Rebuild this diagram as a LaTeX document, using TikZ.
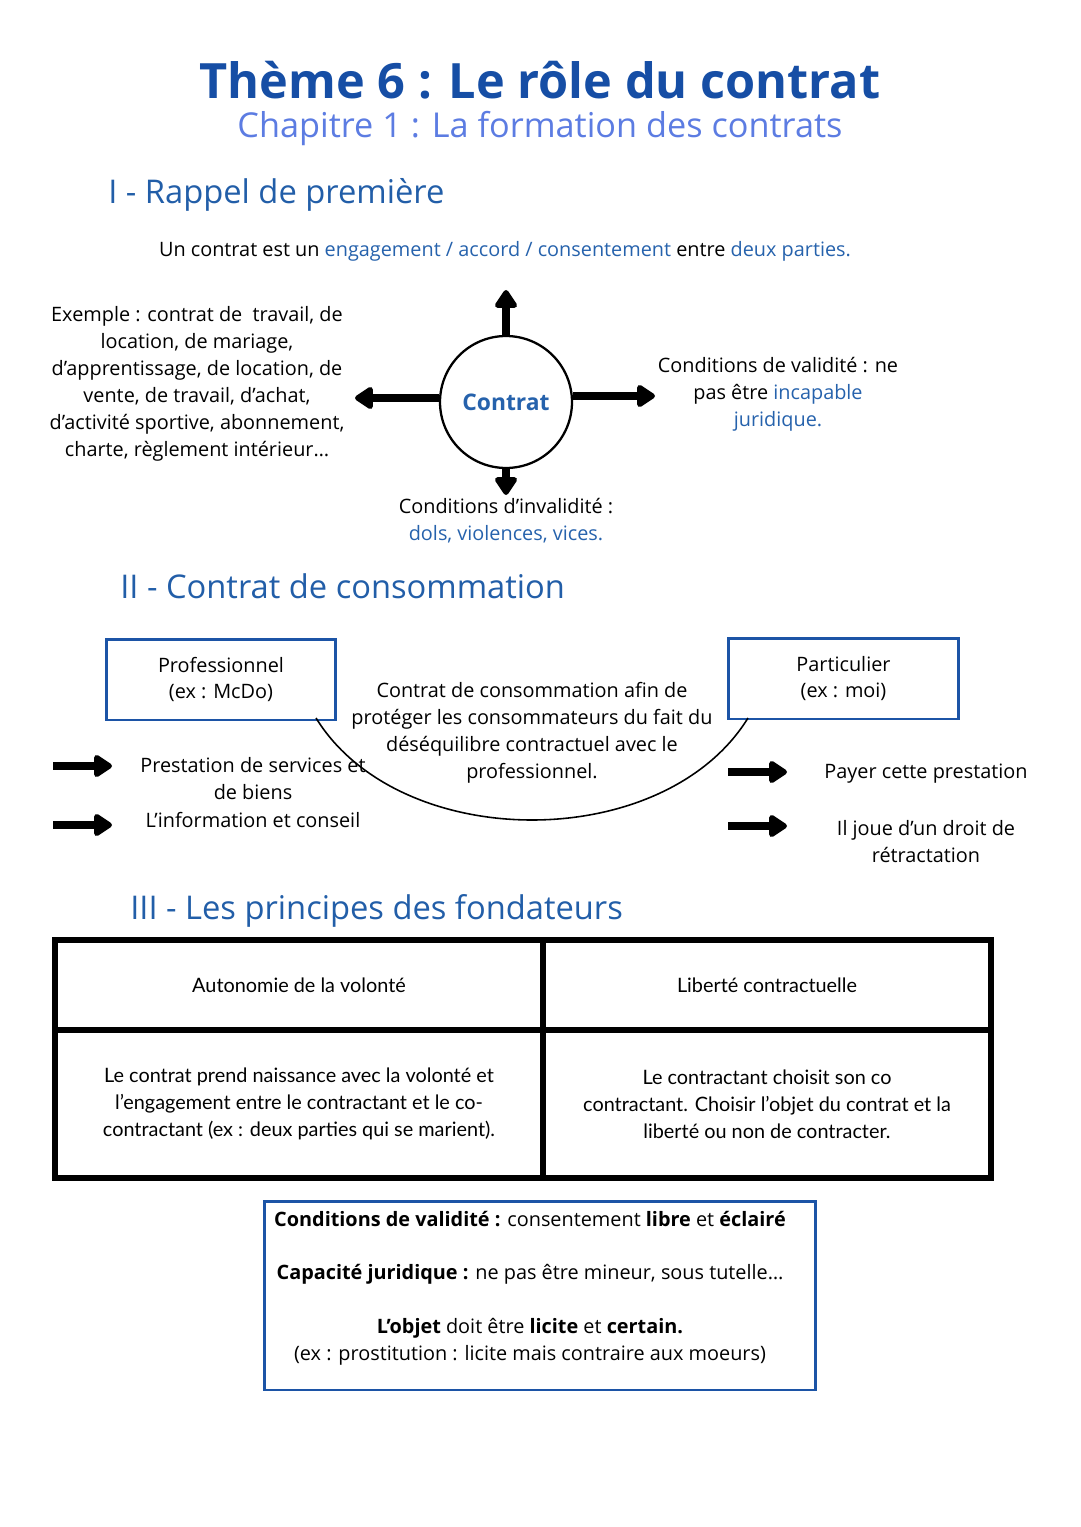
\documentclass[tikz,border=0pt]{standalone}
\usepackage{fontspec}
\setmainfont{Open Sans}
\newfontfamily\tabfont{Lato}
\usetikzlibrary{arrows.meta,positioning}
\definecolor{titleblue}{RGB}{22,78,165}
\definecolor{subblue}{RGB}{92,124,226}
\definecolor{headblue}{RGB}{34,94,168}
\definecolor{wordblue}{RGB}{38,98,172}
\definecolor{boxblue}{RGB}{28,84,166}
\newcommand{\bw}[1]{\textcolor{wordblue}{#1}}
\begin{document}
\begin{tikzpicture}[x=0.02cm, y=-0.02cm,
    txt/.style={align=center, font=\fontsize{11.3}{15.3}\selectfont, inner sep=0pt},
    heading/.style={anchor=west, text=headblue, font=\fontsize{18.6}{22}\selectfont, inner sep=0pt},
    party/.style={draw=boxblue, line width=1.7pt, minimum width=4.6cm, minimum height=1.62cm, align=center, font=\fontsize{11.3}{15.3}\selectfont},
    bigarrow/.style={-{Triangle[round,length=0.4cm,width=0.5cm]}, line width=4pt},
    cell/.style={draw, line width=3.4pt, align=center, font=\tabfont\fontsize{11.3}{15.3}\selectfont},
]
\useasboundingbox (0,0) rectangle (1080,1527);

% titres
\node[font=\fontsize{27.7}{32}\selectfont\bfseries, text=titleblue] (title) at (540,80) {Thème 6 : Le rôle du contrat};
\node[font=\fontsize{19.5}{24}\selectfont, text=subblue] (subtitle) at (540,129) {Chapitre 1 : La formation des contrats};

% I - Rappel de premiere
\node[heading] (h1) at (108,195) {I - Rappel de première};
\node[txt] (intro) at (505,251) {Un contrat est un \bw{engagement / accord / consentement} entre \bw{deux parties.}};

\node[circle, draw, line width=1.3pt, minimum size=2.64cm, text=wordblue, font=\fontsize{13}{16}\selectfont\bfseries] (ctr) at (506,402) {Contrat};
\coordinate (up) at (506,290);
\coordinate (left) at (355,398);
\coordinate (right) at (655,396);
\coordinate (down) at (506,495);
\draw[bigarrow] (ctr.north) -- (up);
\draw[bigarrow] (left -| ctr.west) -- (left);
\draw[bigarrow] (right -| ctr.east) -- (right);
\draw[bigarrow] (ctr.south) -- (down);

\node[txt] (exemple) at (197,384) {Exemple : contrat de ~travail, de\\location, de mariage,\\d’apprentissage, de location, de\\vente, de travail, d’achat,\\d’activité sportive, abonnement,\\charte, règlement intérieur…};
\node[txt] (valid) at (778,394) {Conditions de validité : ne\\pas être \bw{incapable}\\\bw{juridique.}};
\node[txt] (invalid) at (506,521) {Conditions d’invalidité :\\\bw{dols, violences, vices.}};

% II - Contrat de consommation
\node[heading] (h2) at (120,586) {II - Contrat de consommation};
\node[party] (pro) at (221,679.5) {Professionnel\\(ex : McDo)};
\node[party] (part) at (843.5,678.5) {Particulier\\(ex : moi)};
\node[txt] (conso) at (532,733) {Contrat de consommation afin de\\protéger les consommateurs du fait du\\déséquilibre contractuel avec le\\professionnel.};
\coordinate (arcL) at (316,718);
\coordinate (arcR) at (748,718);
\draw[line width=0.9pt] (arcL) .. controls (400,854) and (664,854) .. (arcR);

\coordinate (p1s) at (53,766);
\coordinate (p1e) at (112,766);
\coordinate (p2s) at (53,825);
\coordinate (p2e) at (112,825);
\coordinate (c1s) at (728,772);
\coordinate (c1e) at (787,772);
\coordinate (c2s) at (728,826);
\coordinate (c2e) at (787,826);
\foreach \s/\e in {p1s/p1e, p2s/p2e, c1s/c1e, c2s/c2e}
  \draw[bigarrow] (\s) -- (\e);
\node[txt] (presta) at (253,778.5) {Prestation de services et\\de biens};
\node[txt] (info) at (253,820) {L’information et conseil};
\node[txt] (payer) at (926,774) {Payer cette prestation};
\node[txt] (droit) at (926,841.5) {Il joue d’un droit de\\rétractation};

% III - Les principes des fondateurs
\node[heading] (h3) at (130,911) {III - Les principes des fondateurs};
\node[cell, minimum width=9.76cm, minimum height=1.8cm] (auto) at (299,985) {Autonomie de la volonté};
\node[cell, minimum width=8.96cm, minimum height=1.8cm] (lib) at (767,985) {Liberté contractuelle};
\node[cell, minimum width=9.76cm, minimum height=2.96cm] (autotxt) at (299,1104) {Le contrat prend naissance avec la volonté et\\l’engagement entre le contractant et le co-\\contractant (ex : deux parties qui se marient).};
\node[cell, minimum width=8.96cm, minimum height=2.96cm] (libtxt) at (767,1104) {Le contractant choisit son co\\contractant. Choisir l’objet du contrat et la\\liberté ou non de contracter.};

% conditions
\node[draw=boxblue, line width=1.7pt, minimum width=11.04cm, minimum height=3.78cm] (cond) at (540,1295.5) {};
\node[txt] (condtxt) at (530,1288) {\textbf{Conditions de validité :} consentement \textbf{libre} et \textbf{éclairé}\\[15.3pt]
\textbf{Capacité juridique :} ne pas être mineur, sous tutelle…\\[15.3pt]
\textbf{L’objet} doit être \textbf{licite} et \textbf{certain.}\\
(ex : prostitution : licite mais contraire aux moeurs)};
\end{tikzpicture}
\end{document}
